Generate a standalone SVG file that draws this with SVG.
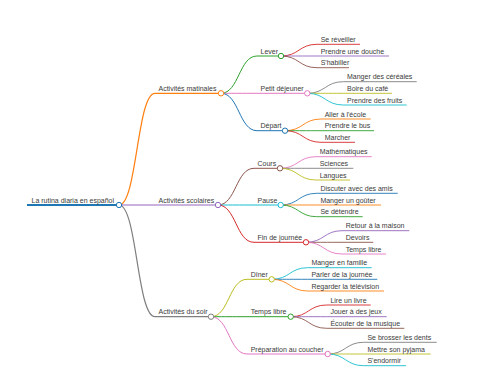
<svg xmlns="http://www.w3.org/2000/svg" width="480" height="384" viewBox="0 0 480 384">
<style>
text{font-family:"Liberation Sans",Arial,sans-serif;font-size:7px;fill:#3a3a3a}
path,line{fill:none}
circle{fill:#fff;stroke-width:1}
.c0{stroke:#1f77b4}.c1{stroke:#ff7f0e}.c2{stroke:#2ca02c}.c3{stroke:#d62728}.c4{stroke:#9467bd}
.c5{stroke:#8c564b}.c6{stroke:#e377c2}.c7{stroke:#7f7f7f}.c8{stroke:#bcbd22}.c9{stroke:#17becf}
.w0{stroke-width:1.8}.w1{stroke-width:1.2}.w2{stroke-width:1}.w3{stroke-width:0.9}
</style>
<rect width="480" height="384" fill="#fff"/>
<g id="connectors">
<path class="c1 w1" d="M119 205C137 205 137 93.3 155 93.3"/>
<path class="c4 w1" d="M119 205C137 205 137 205 155 205"/>
<path class="c7 w1" d="M119 205C137 205 137 316.7 155 316.7"/>
<path class="c2 w2" d="M221 93.3C239 93.3 239 56 257 56"/>
<path class="c6 w2" d="M221 93.3C239 93.3 239 93.3 257 93.3"/>
<path class="c0 w2" d="M221 93.3C239 93.3 239 130.7 257 130.7"/>
<path class="c5 w2" d="M218 205C236 205 236 168.3 254 168.3"/>
<path class="c9 w2" d="M218 205C236 205 236 205 254 205"/>
<path class="c3 w2" d="M218 205C236 205 236 242.3 254 242.3"/>
<path class="c8 w2" d="M211 316.7C229 316.7 229 279.3 247 279.3"/>
<path class="c2 w2" d="M211 316.7C229 316.7 229 316.7 247 316.7"/>
<path class="c6 w2" d="M211 316.7C229 316.7 229 354 247 354"/>
<path class="c3 w3" d="M281 56C299 56 299 44.3 317 44.3"/>
<path class="c4 w3" d="M281 56C299 56 299 56 317 56"/>
<path class="c5 w3" d="M281 56C299 56 299 67.7 317 67.7"/>
<path class="c7 w3" d="M307.3 93.3C325.3 93.3 325.3 81.7 343.3 81.7"/>
<path class="c8 w3" d="M307.3 93.3C325.3 93.3 325.3 93.3 343.3 93.3"/>
<path class="c9 w3" d="M307.3 93.3C325.3 93.3 325.3 105 343.3 105"/>
<path class="c1 w3" d="M285 130.7C303 130.7 303 119 321 119"/>
<path class="c2 w3" d="M285 130.7C303 130.7 303 130.7 321 130.7"/>
<path class="c3 w3" d="M285 130.7C303 130.7 303 142.3 321 142.3"/>
<path class="c6 w3" d="M280 168.3C298 168.3 298 156.7 316 156.7"/>
<path class="c7 w3" d="M280 168.3C298 168.3 298 168.3 316 168.3"/>
<path class="c8 w3" d="M280 168.3C298 168.3 298 180 316 180"/>
<path class="c0 w3" d="M280.7 205C298.7 205 298.7 193.3 316.7 193.3"/>
<path class="c1 w3" d="M280.7 205C298.7 205 298.7 205 316.7 205"/>
<path class="c2 w3" d="M280.7 205C298.7 205 298.7 216.7 316.7 216.7"/>
<path class="c4 w3" d="M306 242.3C324 242.3 324 230.7 342 230.7"/>
<path class="c5 w3" d="M306 242.3C324 242.3 324 242.3 342 242.3"/>
<path class="c6 w3" d="M306 242.3C324 242.3 324 254 342 254"/>
<path class="c9 w3" d="M271.7 279.3C289.7 279.3 289.7 267.7 307.7 267.7"/>
<path class="c0 w3" d="M271.7 279.3C289.7 279.3 289.7 279.3 307.7 279.3"/>
<path class="c1 w3" d="M271.7 279.3C289.7 279.3 289.7 291 307.7 291"/>
<path class="c3 w3" d="M290.7 316.7C308.7 316.7 308.7 305 326.7 305"/>
<path class="c4 w3" d="M290.7 316.7C308.7 316.7 308.7 316.7 326.7 316.7"/>
<path class="c5 w3" d="M290.7 316.7C308.7 316.7 308.7 328.3 326.7 328.3"/>
<path class="c7 w3" d="M327.7 354C345.7 354 345.7 342.3 363.7 342.3"/>
<path class="c8 w3" d="M327.7 354C345.7 354 345.7 354 363.7 354"/>
<path class="c9 w3" d="M327.7 354C345.7 354 345.7 365.7 363.7 365.7"/>
</g>

<g id="root"><line class="c0 w0" x1="27" y1="205" x2="119" y2="205"/><text x="31.5" y="202.5">La rutina diaria en español</text><circle class="c0" cx="119" cy="205" r="2.7"/></g>

<g id="matinales"><line class="c1 w1" x1="155" y1="93.3" x2="221" y2="93.3"/><text x="158.5" y="90.8">Activités matinales</text><circle class="c1" cx="221" cy="93.3" r="2.7"/></g>
<g id="scolaires"><line class="c4 w1" x1="155" y1="205" x2="218" y2="205"/><text x="158.5" y="202.5">Activités scolaires</text><circle class="c4" cx="218" cy="205" r="2.7"/></g>
<g id="soir"><line class="c7 w1" x1="155" y1="316.7" x2="211" y2="316.7"/><text x="158.5" y="314.2">Activités du soir</text><circle class="c7" cx="211" cy="316.7" r="2.7"/></g>

<g id="lever"><line class="c2 w2" x1="257" y1="56" x2="281" y2="56"/><text x="260.5" y="53.5">Lever</text><circle class="c2" cx="281" cy="56" r="2.7"/></g>
<g id="petit-dejeuner"><line class="c6 w2" x1="257" y1="93.3" x2="307.3" y2="93.3"/><text x="260.5" y="90.8">Petit déjeuner</text><circle class="c6" cx="307.3" cy="93.3" r="2.7"/></g>
<g id="depart"><line class="c0 w2" x1="257" y1="130.7" x2="285" y2="130.7"/><text x="260.5" y="128.2">Départ</text><circle class="c0" cx="285" cy="130.7" r="2.7"/></g>
<g id="cours"><line class="c5 w2" x1="254" y1="168.3" x2="280" y2="168.3"/><text x="257.5" y="165.8">Cours</text><circle class="c5" cx="280" cy="168.3" r="2.7"/></g>
<g id="pause"><line class="c9 w2" x1="254" y1="205" x2="280.7" y2="205"/><text x="257.5" y="202.5">Pause</text><circle class="c9" cx="280.7" cy="205" r="2.7"/></g>
<g id="fin-journee"><line class="c3 w2" x1="254" y1="242.3" x2="306" y2="242.3"/><text x="257.5" y="239.8">Fin de journée</text><circle class="c3" cx="306" cy="242.3" r="2.7"/></g>
<g id="diner"><line class="c8 w2" x1="247" y1="279.3" x2="271.7" y2="279.3"/><text x="250.7" y="276.8">Dîner</text><circle class="c8" cx="271.7" cy="279.3" r="2.7"/></g>
<g id="temps-libre-soir"><line class="c2 w2" x1="247" y1="316.7" x2="290.7" y2="316.7"/><text x="250.7" y="314.2">Temps libre</text><circle class="c2" cx="290.7" cy="316.7" r="2.7"/></g>
<g id="preparation"><line class="c6 w2" x1="247" y1="354" x2="327.7" y2="354"/><text x="250.7" y="351.5">Préparation au coucher</text><circle class="c6" cx="327.7" cy="354" r="2.7"/></g>

<g id="se-reveiller"><line class="c3 w3" x1="317" y1="44.3" x2="360" y2="44.3"/><text x="320.7" y="41.8">Se réveiller</text></g>
<g id="douche"><line class="c4 w3" x1="317" y1="56" x2="389" y2="56"/><text x="320.7" y="53.5">Prendre une douche</text></g>
<g id="habiller"><line class="c5 w3" x1="317" y1="67.7" x2="349" y2="67.7"/><text x="320.7" y="65.2">S'habiller</text></g>
<g id="cereales"><line class="c7 w3" x1="343.3" y1="81.7" x2="416.7" y2="81.7"/><text x="347" y="79.2">Manger des céréales</text></g>
<g id="cafe"><line class="c8 w3" x1="343.3" y1="93.3" x2="392" y2="93.3"/><text x="347" y="90.8">Boire du café</text></g>
<g id="fruits"><line class="c9 w3" x1="343.3" y1="105" x2="406.7" y2="105"/><text x="347" y="102.5">Prendre des fruits</text></g>
<g id="ecole"><line class="c1 w3" x1="321" y1="119" x2="370.7" y2="119"/><text x="324.7" y="116.5">Aller à l'école</text></g>
<g id="bus"><line class="c2 w3" x1="321" y1="130.7" x2="374" y2="130.7"/><text x="324.7" y="128.2">Prendre le bus</text></g>
<g id="marcher"><line class="c3 w3" x1="321" y1="142.3" x2="355" y2="142.3"/><text x="324.7" y="139.8">Marcher</text></g>
<g id="maths"><line class="c6 w3" x1="316" y1="156.7" x2="371.7" y2="156.7"/><text x="319.7" y="154.2">Mathématiques</text></g>
<g id="sciences"><line class="c7 w3" x1="316" y1="168.3" x2="353.3" y2="168.3"/><text x="319.7" y="165.8">Sciences</text></g>
<g id="langues"><line class="c8 w3" x1="316" y1="180" x2="350" y2="180"/><text x="319.7" y="177.5">Langues</text></g>
<g id="discuter"><line class="c0 w3" x1="316.7" y1="193.3" x2="397.7" y2="193.3"/><text x="320.4" y="190.8">Discuter avec des amis</text></g>
<g id="gouter"><line class="c1 w3" x1="316.7" y1="205" x2="381" y2="205"/><text x="320.4" y="202.5">Manger un goûter</text></g>
<g id="detendre"><line class="c2 w3" x1="316.7" y1="216.7" x2="362.7" y2="216.7"/><text x="320.4" y="214.2">Se détendre</text></g>
<g id="retour"><line class="c4 w3" x1="342" y1="230.7" x2="409.3" y2="230.7"/><text x="345.7" y="228.2">Retour à la maison</text></g>
<g id="devoirs"><line class="c5 w3" x1="342" y1="242.3" x2="373.3" y2="242.3"/><text x="345.7" y="239.8">Devoirs</text></g>
<g id="temps-libre-ecole"><line class="c6 w3" x1="342" y1="254" x2="386" y2="254"/><text x="345.7" y="251.5">Temps libre</text></g>
<g id="famille"><line class="c9 w3" x1="307.7" y1="267.7" x2="371.7" y2="267.7"/><text x="311.4" y="265.2">Manger en famille</text></g>
<g id="parler"><line class="c0 w3" x1="307.7" y1="279.3" x2="377.3" y2="279.3"/><text x="311.4" y="276.8">Parler de la journée</text></g>
<g id="television"><line class="c1 w3" x1="307.7" y1="291" x2="384" y2="291"/><text x="311.4" y="288.5">Regarder la télévision</text></g>
<g id="livre"><line class="c3 w3" x1="326.7" y1="305" x2="370.7" y2="305"/><text x="330.4" y="302.5">Lire un livre</text></g>
<g id="jeux"><line class="c4 w3" x1="326.7" y1="316.7" x2="386.7" y2="316.7"/><text x="330.4" y="314.2">Jouer à des jeux</text></g>
<g id="musique"><line class="c5 w3" x1="326.7" y1="328.3" x2="404.3" y2="328.3"/><text x="330.4" y="325.8">Écouter de la musique</text></g>
<g id="dents"><line class="c7 w3" x1="363.7" y1="342.3" x2="436.7" y2="342.3"/><text x="367.4" y="339.8">Se brosser les dents</text></g>
<g id="pyjama"><line class="c8 w3" x1="363.7" y1="354" x2="430.7" y2="354"/><text x="367.4" y="351.5">Mettre son pyjama</text></g>
<g id="endormir"><line class="c9 w3" x1="363.7" y1="365.7" x2="406" y2="365.7"/><text x="367.4" y="363.2">S'endormir</text></g>
</svg>
